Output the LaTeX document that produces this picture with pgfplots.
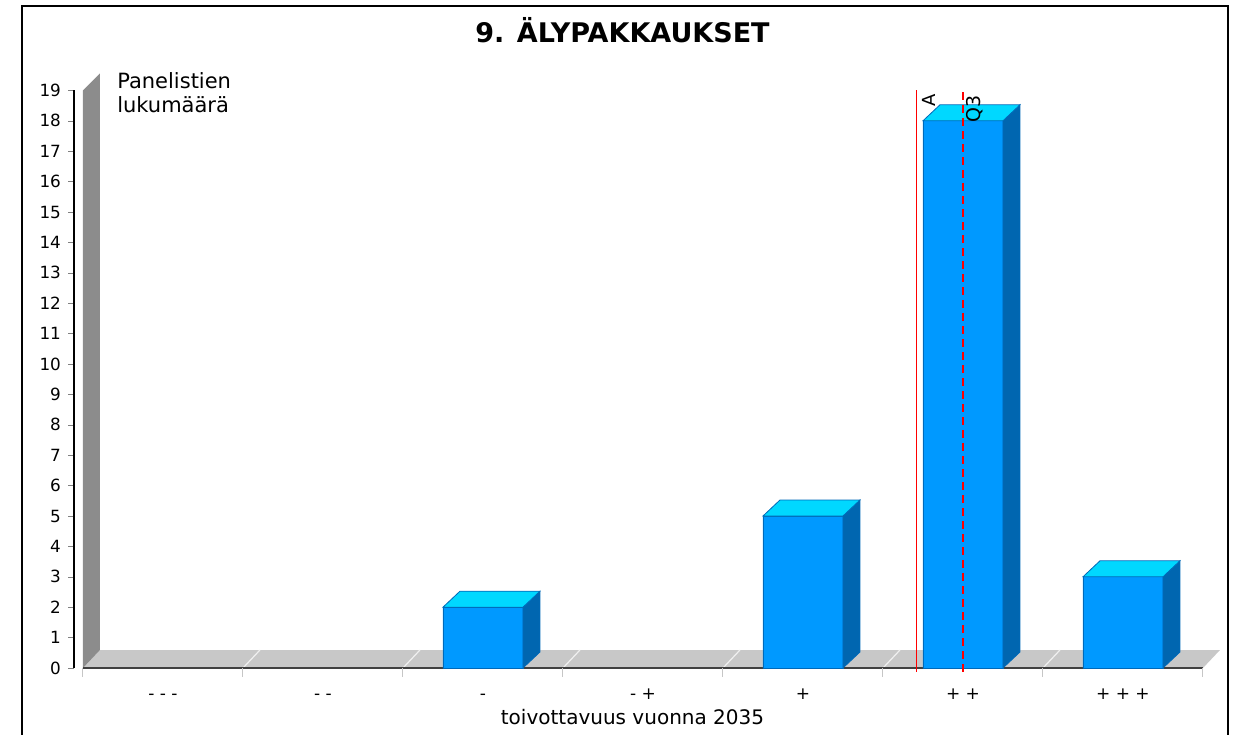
\documentclass[border=0pt]{standalone}
\usepackage{pgfplots}
\pgfplotsset{compat=1.18}
\usepackage{pgfplotstable}
\usepackage{fontspec}
\setmainfont{DejaVu Sans}
\setsansfont{DejaVu Sans}

\definecolor{frontc}{RGB}{0,153,255}
\definecolor{topc}{RGB}{0,216,255}
\definecolor{sidec}{RGB}{0,102,176}
\definecolor{edgec}{RGB}{0,105,185}
\definecolor{floorc}{RGB}{200,200,200}
\definecolor{wallc}{RGB}{140,140,140}
\definecolor{floorline}{RGB}{64,64,64}

% answers per category (0 = - - -, ..., 6 = + + +)
\pgfplotstableread{
x y
0 0
1 0
2 2
3 0
4 5
5 18
6 3
}\answers

% top and side faces of a 3d bar, drawn at the bar's top centre
\pgfdeclareplotmark{cube3d}{%
  \pgfsetlinewidth{0.4pt}%
  \pgfsetstrokecolor{edgec}%
  \pgfpathmoveto{\pgfqpoint{20pt}{0pt}}%
  \pgfpathlineto{\pgfqpoint{28.5pt}{8pt}}%
  \pgfpathlineto{\pgfpoint{28.5pt}{8pt-\barval*15.2pt}}%
  \pgfpathlineto{\pgfpoint{20pt}{-\barval*15.2pt}}%
  \pgfpathclose
  \pgfsetfillcolor{sidec}%
  \pgfusepath{fill,stroke}%
  \pgfpathmoveto{\pgfqpoint{-20pt}{0pt}}%
  \pgfpathlineto{\pgfqpoint{20pt}{0pt}}%
  \pgfpathlineto{\pgfqpoint{28.5pt}{8pt}}%
  \pgfpathlineto{\pgfqpoint{-11.5pt}{8pt}}%
  \pgfpathclose
  \pgfsetfillcolor{topc}%
  \pgfusepath{fill,stroke}%
}

\begin{document}
\begin{tikzpicture}
\useasboundingbox (-37pt,-33pt) rectangle (580.5pt,334pt);
\draw[line width=1.2pt] (-26pt,-45pt) -- (-26pt,331pt) -- (577pt,331pt) -- (577pt,-45pt);
\begin{axis}[
    at={(0,0)}, anchor=south west,
    x=80pt, y=15.2pt,
    xmin=-0.556, xmax=6.5,
    ymin=0, ymax=19,
    clip=false,
    clip marker paths=true,
    axis lines*=left,
    x axis line style={draw=none},
    y axis line style={line width=0.6pt},
    ytick={0,...,19},
    ytick pos=left,
    tick align=outside,
    major tick length=3pt,
    xtick={0,...,6},
    xticklabels={- - -, - -, -, - +, +, + +, + + +},
    xtick style={draw=none},
    tick label style={font=\fontsize{8.4}{10}\selectfont},
    xticklabel style={anchor=base, yshift=-12.5pt, font=\fontsize{8.5}{10}\selectfont},
    /pgf/number format/assume math mode=true,
    title={9. ÄLYPAKKAUKSET},
    title style={font=\bfseries\fontsize{13.5}{15}\selectfont,
        at={(axis description cs:0.5,1)}, anchor=center,
        yshift=24pt, xshift=-8pt},
    xlabel={toivottavuus vuonna 2035},
    xlabel style={font=\fontsize{10}{12}\selectfont,
        at={(axis description cs:0.5,0)}, anchor=center,
        yshift=-24.5pt, xshift=-3pt},
    ylabel={Panelistien\\lukumäärä},
    ylabel style={rotate=-90, align=left, inner sep=0pt,
        font=\fontsize{10.5}{12}\selectfont,
        at={(axis description cs:0.038,1.031)}, anchor=north west},
]
% floor and back wall
\fill[floorc] (axis cs:-0.5,0) -- (axis cs:6.5,0) -- ++(8.5pt,9pt) -- ++(-560pt,0pt) -- cycle;
\pgfplotsinvokeforeach{0.5,1.5,2.5,3.5,4.5,5.5}{
  \draw[white!88!gray, line width=0.6pt] (axis cs:#1,0) -- ++(8.5pt,9pt);
}
\fill[wallc] (axis cs:-0.5,0) -- (axis cs:-0.5,19) -- ++(8.5pt,8.5pt)
    -- ([shift={(8.5pt,9pt)}]axis cs:-0.5,0) -- cycle;
\draw[floorline, line width=1pt] (axis cs:-0.5,0) -- (axis cs:6.5,0);
\pgfplotsinvokeforeach{-0.5,0.5,1.5,2.5,3.5,4.5,5.5,6.5}{
  \draw[gray!45, line width=0.5pt] (axis cs:#1,0) -- ++(0pt,-4.5pt);
}
% bars
\addplot[ybar, bar shift=0pt, bar width=40pt, fill=frontc, draw=edgec,
    line width=0.4pt, y filter/.expression={y==0 ? nan : y}]
    table[x=x, y=y] {\answers};
\addplot[only marks, mark=cube3d,
    visualization depends on={rawy \as \barval},
    y filter/.expression={y==0 ? nan : y}]
    table[x=x, y=y] {\answers};
% A and Q3 markers
\addplot[red, line width=0.75pt]
    coordinates {(4.71,-0.12) (4.71,19)};
\addplot[red, line width=0.75pt, dash pattern=on 4pt off 2.5pt]
    coordinates {(5,-0.12) (5,19)};
\node[rotate=90, anchor=north east, inner sep=0pt, font=\fontsize{9}{10}\selectfont]
    at ([shift={(2.5pt,-1.5pt)}]axis cs:4.71,19) {A};
\node[rotate=90, anchor=north east, inner sep=0pt, font=\fontsize{9.5}{10}\selectfont]
    at ([shift={(1.5pt,-2.5pt)}]axis cs:5,19) {Q3};
\end{axis}
\end{tikzpicture}
\end{document}
